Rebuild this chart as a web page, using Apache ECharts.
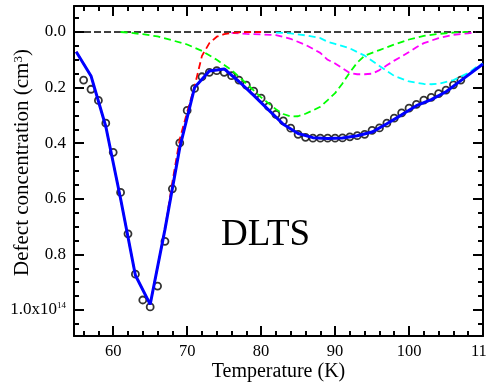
<!DOCTYPE html>
<html>
<head>
<meta charset="utf-8">
<script src="https://cdn.jsdelivr.net/npm/echarts@6/dist/echarts.min.js"></script>
<style>
  html, body { margin: 0; padding: 0; background: #fff; }
  #chart { width: 486px; height: 386px; }
</style>
</head>
<body>
<div id="chart"></div>
<script>
// tick positions
const xMajor = [60, 70, 80, 90, 100, 110];
const xMinor = [56, 58, 62, 64, 66, 68, 72, 74, 76, 78, 82, 84, 86, 88, 92, 94, 96, 98, 102, 104, 106, 108];
const yMajor = [0, 0.2, 0.4, 0.6, 0.8, 1.0];
const yMinor = [-0.05, 0.05, 0.1, 0.15, 0.25, 0.3, 0.35, 0.45, 0.5, 0.55, 0.65, 0.7, 0.75, 0.85, 0.9, 0.95, 1.05];

// measured DLTS data (circles)
const circT = [56, 57, 58, 59, 60, 61, 62, 63, 64, 65, 66, 67, 68, 69, 70, 71, 72, 73, 74, 75, 76, 77, 78, 79, 80, 81,
  82, 83, 84, 85, 86, 87, 88, 89, 90, 91, 92, 93, 94, 95, 96, 97, 98, 99, 100, 101, 102, 103, 104, 105, 106, 107];
const circV = [0.173, 0.206, 0.246, 0.328, 0.433, 0.577, 0.726, 0.871, 0.964, 0.989, 0.914, 0.753, 0.564, 0.399, 0.282, 0.203,
  0.161, 0.145, 0.139, 0.145, 0.157, 0.173, 0.191, 0.213, 0.238, 0.268, 0.296, 0.320, 0.346, 0.368, 0.379, 0.382, 0.382,
  0.382, 0.382, 0.381, 0.377, 0.373, 0.368, 0.354, 0.345, 0.328, 0.310, 0.291, 0.274, 0.260, 0.245, 0.235, 0.222, 0.209,
  0.190, 0.173];

// total fit (blue)
const blueT = [55, 57, 59, 61, 63, 65, 67, 69, 71, 73, 75, 77, 79, 81, 83, 85, 87, 89, 91, 93, 95, 97, 99, 101, 103, 105, 107, 109, 110];
const blueV = [0.071, 0.158, 0.34, 0.60, 0.875, 0.98, 0.71, 0.416, 0.20, 0.14, 0.133, 0.178, 0.228, 0.28, 0.332, 0.365,
  0.38, 0.383, 0.381, 0.373, 0.36, 0.33, 0.298, 0.265, 0.243, 0.215, 0.175, 0.135, 0.115];

// single-level components
const redT = [55, 57, 59, 61, 63, 65, 67, 68, 69, 70, 71, 72, 73, 74, 75, 76, 77, 80];
const redV = [0.071, 0.158, 0.34, 0.60, 0.875, 0.98, 0.71, 0.54, 0.385, 0.288, 0.196, 0.086, 0.04, 0.017, 0.008, 0.004, 0.001, 0];

const greenT = [61, 62, 64, 66, 68, 70, 72, 74, 76, 78, 80, 82, 83, 84, 85, 86, 87, 88, 89, 90, 91, 92, 93, 94, 96, 98, 100, 102, 104, 106, 108];
const greenV = [0, 0.002, 0.008, 0.016, 0.03, 0.045, 0.068, 0.1, 0.137, 0.185, 0.235, 0.278, 0.295, 0.304, 0.303, 0.294,
  0.282, 0.269, 0.245, 0.22, 0.185, 0.145, 0.11, 0.085, 0.065, 0.045, 0.027, 0.014, 0.007, 0.002, 0];

const magT = [76, 78, 80, 82, 84, 86, 88, 89, 90, 91, 92, 93, 94, 95, 96, 97, 98, 99, 100, 101, 102, 104, 106, 108, 109];
const magV = [0.003, 0.007, 0.009, 0.011, 0.025, 0.046, 0.075, 0.1, 0.113, 0.13, 0.148, 0.152, 0.152, 0.15, 0.137, 0.12,
  0.103, 0.088, 0.072, 0.055, 0.04, 0.022, 0.01, 0.005, 0];

const cyanT = [82, 84, 86, 88, 89, 90, 92, 94, 96, 98, 100, 102, 103, 104, 106, 107, 108, 109, 110];
const cyanV = [0.002, 0.005, 0.012, 0.022, 0.035, 0.043, 0.059, 0.085, 0.122, 0.158, 0.178, 0.187, 0.188, 0.186, 0.173,
  0.16, 0.148, 0.128, 0.113];

const zeroT = [54.7, 110];
const zeroV = [0, 0];

const FONT = 'Liberation Serif';
const pairs = (xs, ys) => xs.map((x, i) => [x, ys[i]]);

const chart = echarts.init(document.getElementById('chart'));

function xAxisDef(pos, ticks, len, major) {
    return {
        type: 'value', min: 54.7, max: 110, position: pos,
        name: pos === 'bottom' && major ? 'Temperature (K)' : '',
        nameLocation: 'middle', nameGap: 26, nameMoveOverlap: false,
        nameTextStyle: { fontFamily: FONT, fontSize: 20, color: '#000' },
        axisLine: { show: major, onZero: false, lineStyle: { color: '#000', width: 2 } },
        axisTick: { show: true, inside: true, length: len, customValues: ticks, lineStyle: { color: '#000', width: 2 } },
        axisLabel: { show: pos === 'bottom' && major, customValues: ticks, fontFamily: FONT, fontSize: 16.5, color: '#000', margin: 7 },
        splitLine: { show: false }
    };
}

function yAxisDef(pos, ticks, len, major) {
    return {
        type: 'value', min: -0.0935, max: 1.0935, inverse: true, position: pos,
        name: pos === 'left' && major ? '{a|Defect concentration (cm}{s|3}{a|)}' : '',
        nameLocation: 'middle', nameGap: 41, nameMoveOverlap: false,
        nameTextStyle: {
            fontFamily: FONT, fontSize: 21, color: '#000', padding: [0, 0, 0, 17],
            rich: {
                a: { fontFamily: FONT, fontSize: 21, color: '#000' },
                s: { fontFamily: FONT, fontSize: 13, verticalAlign: 'top', color: '#000' }
            }
        },
        axisLine: { show: major, onZero: false, lineStyle: { color: '#000', width: 2 } },
        axisTick: { show: true, inside: true, length: len, customValues: ticks, lineStyle: { color: '#000', width: 2 } },
        axisLabel: {
            show: pos === 'left' && major, customValues: ticks, margin: 8,
            fontFamily: FONT, fontSize: 17, color: '#000',
            formatter: v => (Math.abs(v - 1) < 1e-6 ? '{a|1.0x10}{s|14}' : '{a|' + v.toFixed(1) + '}'),
            rich: {
                a: { fontFamily: FONT, fontSize: 17, color: '#000' },
                s: { fontFamily: FONT, fontSize: 9, verticalAlign: 'top', color: '#000' }
            }
        },
        splitLine: { show: false }
    };
}

const dashed = (color, xs, ys) => ({
    type: 'line', data: pairs(xs, ys), symbol: 'none', silent: true,
    lineStyle: { color: color, width: 1.8, type: [7, 4] }
});

chart.setOption({
    backgroundColor: '#fff',
    animation: false,
    title: {
        text: 'DLTS', left: 216, top: 212,
        textStyle: { fontFamily: FONT, fontSize: 37, fontWeight: 'normal', color: '#000' }
    },
    grid: { left: 74, right: 3, top: 6, bottom: 50, containLabel: false, outerBoundsMode: 'none' },
    xAxis: [
        xAxisDef('bottom', xMajor, 10, true),
        xAxisDef('bottom', xMinor, 5, false),
        xAxisDef('top', xMajor, 10, true),
        xAxisDef('top', xMinor, 5, false)
    ],
    yAxis: [
        yAxisDef('left', yMajor, 10, true),
        yAxisDef('left', yMinor, 5, false),
        yAxisDef('right', yMajor, 10, true),
        yAxisDef('right', yMinor, 5, false)
    ],
    series: [
        { type: 'line', data: pairs(zeroT, zeroV), symbol: 'none', lineStyle: { color: '#000', width: 1.5, type: [7, 3] } },
        dashed('#00ff00', greenT, greenV),
        dashed('#ff00ff', magT, magV),
        dashed('#00ffff', cyanT, cyanV),
        dashed('#ff0000', redT, redV),
        { type: 'line', data: pairs(blueT, blueV), symbol: 'none', lineStyle: { color: '#0000ff', width: 3 } },
        {
            type: 'scatter', data: pairs(circT, circV), symbol: 'circle', symbolSize: 7,
            itemStyle: { color: '#fff', borderColor: '#000', borderWidth: 1.8 }
        }
    ]
});
</script>
</body>
</html>
